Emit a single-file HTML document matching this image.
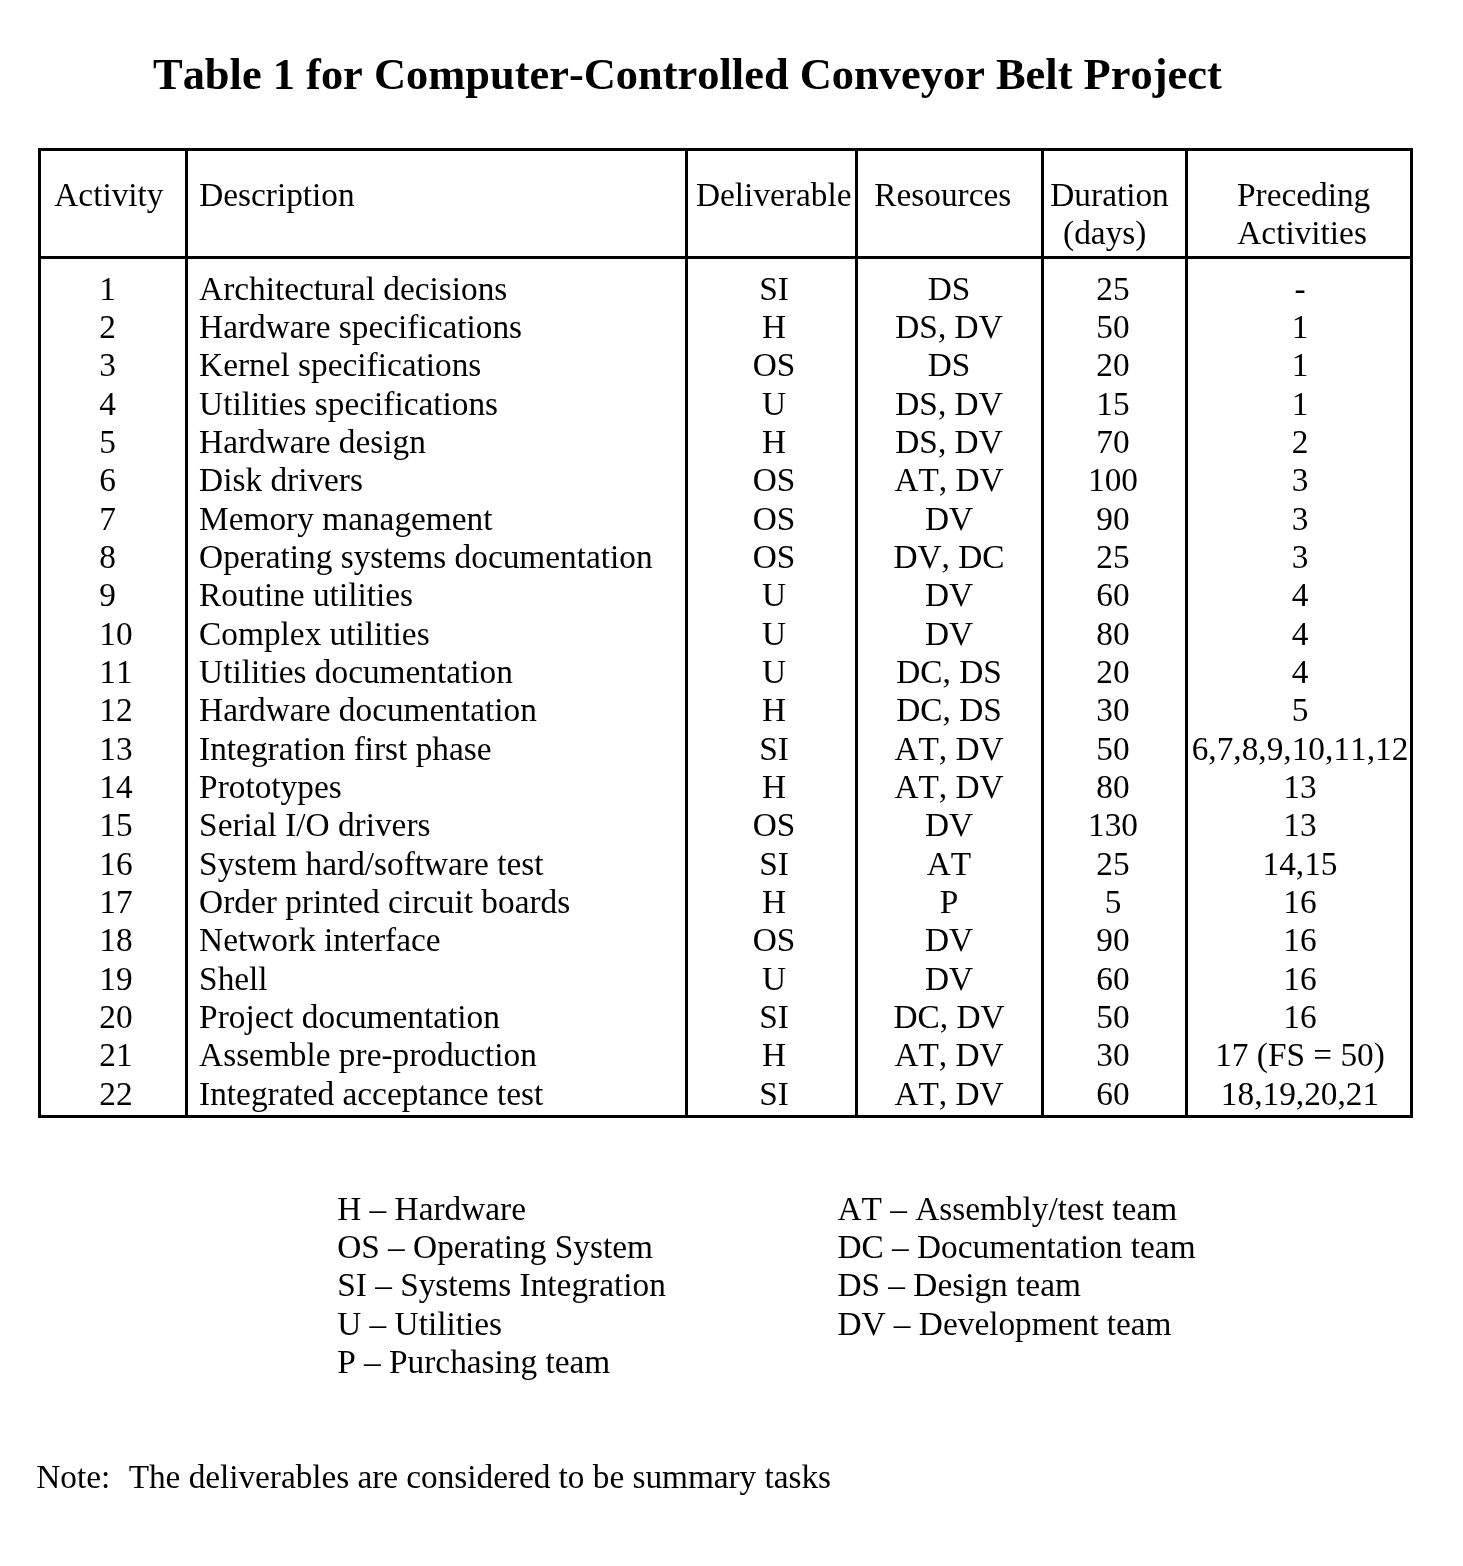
<!DOCTYPE html>
<html><head><meta charset="utf-8"><title>Table 1 for Computer-Controlled Conveyor Belt Project</title>
<style>
html,body{margin:0;padding:0;background:#fff;}
body{width:1463px;height:1566px;overflow:hidden;}
svg{display:block;will-change:transform;}
text{font-family:"Liberation Serif", serif;font-size:33.33px;fill:#000;white-space:pre;font-kerning:none;}
</style></head><body>
<svg width="1463" height="1566" viewBox="0 0 1463 1566">
<rect width="1463" height="1566" fill="#fff"/>
<g fill="#000">
<rect x="38" y="148" width="3" height="970"/>
<rect x="185" y="148" width="3" height="970"/>
<rect x="685" y="148" width="3" height="970"/>
<rect x="855" y="148" width="3" height="970"/>
<rect x="1041" y="148" width="3" height="970"/>
<rect x="1185" y="148" width="3" height="970"/>
<rect x="1410" y="148" width="3" height="970"/>
<rect x="38" y="148" width="1375" height="3"/>
<rect x="38" y="256" width="1375" height="3"/>
<rect x="38" y="1115" width="1375" height="3"/>
</g>
<text x="153" y="88.7" style="font-weight:bold;font-size:44.44px">Table 1 for Computer-Controlled Conveyor Belt Project</text>
<text x="54.3" y="205.5">Activity</text>
<text x="199.2" y="205.5">Description</text>
<text x="696" y="205.5">Deliverable</text>
<text x="874.3" y="205.5">Resources</text>
<text x="1050.3" y="205.5">Duration</text>
<text x="1063.1" y="243.5">(days)</text>
<text x="1237" y="205.5">Preceding</text>
<text x="1237.3" y="243.5">Activities</text>
<text x="99.3" y="299.7">1</text>
<text x="199.1" y="299.7">Architectural decisions</text>
<text x="774" y="299.7" text-anchor="middle">SI</text>
<text x="949" y="299.7" text-anchor="middle">DS</text>
<text x="1113" y="299.7" text-anchor="middle">25</text>
<text x="1300" y="299.7" text-anchor="middle">-</text>
<text x="99.3" y="338.03">2</text>
<text x="199.1" y="338.03">Hardware specifications</text>
<text x="774" y="338.03" text-anchor="middle">H</text>
<text x="949" y="338.03" text-anchor="middle">DS, DV</text>
<text x="1113" y="338.03" text-anchor="middle">50</text>
<text x="1300" y="338.03" text-anchor="middle">1</text>
<text x="99.3" y="376.36">3</text>
<text x="199.1" y="376.36">Kernel specifications</text>
<text x="774" y="376.36" text-anchor="middle">OS</text>
<text x="949" y="376.36" text-anchor="middle">DS</text>
<text x="1113" y="376.36" text-anchor="middle">20</text>
<text x="1300" y="376.36" text-anchor="middle">1</text>
<text x="99.3" y="414.69">4</text>
<text x="199.1" y="414.69">Utilities specifications</text>
<text x="774" y="414.69" text-anchor="middle">U</text>
<text x="949" y="414.69" text-anchor="middle">DS, DV</text>
<text x="1113" y="414.69" text-anchor="middle">15</text>
<text x="1300" y="414.69" text-anchor="middle">1</text>
<text x="99.3" y="453.02">5</text>
<text x="199.1" y="453.02">Hardware design</text>
<text x="774" y="453.02" text-anchor="middle">H</text>
<text x="949" y="453.02" text-anchor="middle">DS, DV</text>
<text x="1113" y="453.02" text-anchor="middle">70</text>
<text x="1300" y="453.02" text-anchor="middle">2</text>
<text x="99.3" y="491.35">6</text>
<text x="199.1" y="491.35">Disk drivers</text>
<text x="774" y="491.35" text-anchor="middle">OS</text>
<text x="949" y="491.35" text-anchor="middle">AT, DV</text>
<text x="1113" y="491.35" text-anchor="middle">100</text>
<text x="1300" y="491.35" text-anchor="middle">3</text>
<text x="99.3" y="529.68">7</text>
<text x="199.1" y="529.68">Memory management</text>
<text x="774" y="529.68" text-anchor="middle">OS</text>
<text x="949" y="529.68" text-anchor="middle">DV</text>
<text x="1113" y="529.68" text-anchor="middle">90</text>
<text x="1300" y="529.68" text-anchor="middle">3</text>
<text x="99.3" y="568.01">8</text>
<text x="199.1" y="568.01">Operating systems documentation</text>
<text x="774" y="568.01" text-anchor="middle">OS</text>
<text x="949" y="568.01" text-anchor="middle">DV, DC</text>
<text x="1113" y="568.01" text-anchor="middle">25</text>
<text x="1300" y="568.01" text-anchor="middle">3</text>
<text x="99.3" y="606.34">9</text>
<text x="199.1" y="606.34">Routine utilities</text>
<text x="774" y="606.34" text-anchor="middle">U</text>
<text x="949" y="606.34" text-anchor="middle">DV</text>
<text x="1113" y="606.34" text-anchor="middle">60</text>
<text x="1300" y="606.34" text-anchor="middle">4</text>
<text x="99.3" y="644.67">10</text>
<text x="199.1" y="644.67">Complex utilities</text>
<text x="774" y="644.67" text-anchor="middle">U</text>
<text x="949" y="644.67" text-anchor="middle">DV</text>
<text x="1113" y="644.67" text-anchor="middle">80</text>
<text x="1300" y="644.67" text-anchor="middle">4</text>
<text x="99.3" y="683.0">11</text>
<text x="199.1" y="683.0">Utilities documentation</text>
<text x="774" y="683.0" text-anchor="middle">U</text>
<text x="949" y="683.0" text-anchor="middle">DC, DS</text>
<text x="1113" y="683.0" text-anchor="middle">20</text>
<text x="1300" y="683.0" text-anchor="middle">4</text>
<text x="99.3" y="721.33">12</text>
<text x="199.1" y="721.33">Hardware documentation</text>
<text x="774" y="721.33" text-anchor="middle">H</text>
<text x="949" y="721.33" text-anchor="middle">DC, DS</text>
<text x="1113" y="721.33" text-anchor="middle">30</text>
<text x="1300" y="721.33" text-anchor="middle">5</text>
<text x="99.3" y="759.66">13</text>
<text x="199.1" y="759.66">Integration first phase</text>
<text x="774" y="759.66" text-anchor="middle">SI</text>
<text x="949" y="759.66" text-anchor="middle">AT, DV</text>
<text x="1113" y="759.66" text-anchor="middle">50</text>
<text x="1300" y="759.66" text-anchor="middle">6,7,8,9,10,11,12</text>
<text x="99.3" y="797.99">14</text>
<text x="199.1" y="797.99">Prototypes</text>
<text x="774" y="797.99" text-anchor="middle">H</text>
<text x="949" y="797.99" text-anchor="middle">AT, DV</text>
<text x="1113" y="797.99" text-anchor="middle">80</text>
<text x="1300" y="797.99" text-anchor="middle">13</text>
<text x="99.3" y="836.32">15</text>
<text x="199.1" y="836.32">Serial I/O drivers</text>
<text x="774" y="836.32" text-anchor="middle">OS</text>
<text x="949" y="836.32" text-anchor="middle">DV</text>
<text x="1113" y="836.32" text-anchor="middle">130</text>
<text x="1300" y="836.32" text-anchor="middle">13</text>
<text x="99.3" y="874.65">16</text>
<text x="199.1" y="874.65">System hard/software test</text>
<text x="774" y="874.65" text-anchor="middle">SI</text>
<text x="949" y="874.65" text-anchor="middle">AT</text>
<text x="1113" y="874.65" text-anchor="middle">25</text>
<text x="1300" y="874.65" text-anchor="middle">14,15</text>
<text x="99.3" y="912.98">17</text>
<text x="199.1" y="912.98">Order printed circuit boards</text>
<text x="774" y="912.98" text-anchor="middle">H</text>
<text x="949" y="912.98" text-anchor="middle">P</text>
<text x="1113" y="912.98" text-anchor="middle">5</text>
<text x="1300" y="912.98" text-anchor="middle">16</text>
<text x="99.3" y="951.31">18</text>
<text x="199.1" y="951.31">Network interface</text>
<text x="774" y="951.31" text-anchor="middle">OS</text>
<text x="949" y="951.31" text-anchor="middle">DV</text>
<text x="1113" y="951.31" text-anchor="middle">90</text>
<text x="1300" y="951.31" text-anchor="middle">16</text>
<text x="99.3" y="989.64">19</text>
<text x="199.1" y="989.64">Shell</text>
<text x="774" y="989.64" text-anchor="middle">U</text>
<text x="949" y="989.64" text-anchor="middle">DV</text>
<text x="1113" y="989.64" text-anchor="middle">60</text>
<text x="1300" y="989.64" text-anchor="middle">16</text>
<text x="99.3" y="1027.97">20</text>
<text x="199.1" y="1027.97">Project documentation</text>
<text x="774" y="1027.97" text-anchor="middle">SI</text>
<text x="949" y="1027.97" text-anchor="middle">DC, DV</text>
<text x="1113" y="1027.97" text-anchor="middle">50</text>
<text x="1300" y="1027.97" text-anchor="middle">16</text>
<text x="99.3" y="1066.3">21</text>
<text x="199.1" y="1066.3">Assemble pre-production</text>
<text x="774" y="1066.3" text-anchor="middle">H</text>
<text x="949" y="1066.3" text-anchor="middle">AT, DV</text>
<text x="1113" y="1066.3" text-anchor="middle">30</text>
<text x="1300" y="1066.3" text-anchor="middle">17 (FS = 50)</text>
<text x="99.3" y="1104.63">22</text>
<text x="199.1" y="1104.63">Integrated acceptance test</text>
<text x="774" y="1104.63" text-anchor="middle">SI</text>
<text x="949" y="1104.63" text-anchor="middle">AT, DV</text>
<text x="1113" y="1104.63" text-anchor="middle">60</text>
<text x="1300" y="1104.63" text-anchor="middle">18,19,20,21</text>
<text x="337.2" y="1219.6">H – Hardware</text>
<text x="337.2" y="1257.9">OS – Operating System</text>
<text x="337.2" y="1296.2">SI – Systems Integration</text>
<text x="337.2" y="1334.5">U – Utilities</text>
<text x="337.2" y="1372.8">P – Purchasing team</text>
<text x="837.4" y="1219.6">AT – Assembly/test team</text>
<text x="837.4" y="1257.9">DC – Documentation team</text>
<text x="837.4" y="1296.2">DS – Design team</text>
<text x="837.4" y="1334.5">DV – Development team</text>
<text x="36.2" y="1488">Note:</text>
<text x="128.65" y="1488" textLength="702.4" lengthAdjust="spacing">The deliverables are considered to be summary tasks</text>
</svg>
</body></html>
